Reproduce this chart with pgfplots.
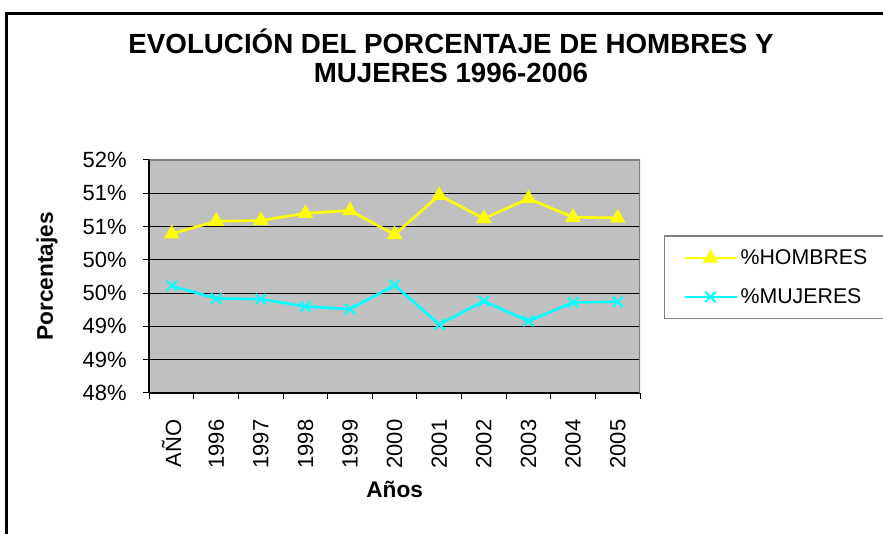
\documentclass[border=0pt]{standalone}
\usepackage{fontspec}
\setmainfont{Liberation Sans}
\usepackage{pgfplots}
\pgfplotsset{compat=1.18}
\definecolor{plotgray}{HTML}{C0C0C0}
\definecolor{hombres}{HTML}{FFFF00}
\definecolor{mujeres}{HTML}{00FFFF}
\definecolor{frame}{HTML}{808080}

\begin{document}
\begin{tikzpicture}
% chart frame and title, in pixel units (y down)
\begin{scope}[x=0.75pt,y=-0.75pt,shift={(0pt,400.5pt)}]
  \draw[black,line width=2.25pt] (6,560) -- (6,14) -- (900,14);
  \node[font=\bfseries\fontsize{20.8}{21.5}\selectfont,align=center] at (451,56)
    {EVOLUCIÓN DEL PORCENTAJE DE HOMBRES Y\\MUJERES 1996-2006};
  \draw[frame,line width=1pt] (900,236) -- (664.3,236) -- (664.3,318.3) -- (900,318.3);
\end{scope}

\begin{axis}[
  at={(112pt,105.75pt)}, anchor=south west,
  scale only axis, width=368pt, height=174.75pt,
  xmin=-0.5, xmax=10.5, ymin=48, ymax=51.5,
  axis x line*=bottom, axis y line*=left,
  axis line style={black,line width=1.4pt},
  axis background/.style={fill=plotgray},
  xtick={0,...,10},
  xticklabels={AÑO,1996,1997,1998,1999,2000,2001,2002,2003,2004,2005},
  minor xtick={-0.5,0.5,...,10.5},
  ytick={48,48.5,49,49.5,50,50.5,51,51.5},
  yticklabels={48\%,49\%,49\%,50\%,50\%,51\%,51\%,52\%},
  tick align=outside,
  major tick length=4.5pt, minor tick length=4.5pt,
  every major x tick/.style={draw=none},
  tick style={black,line width=0.75pt},
  ymajorgrids, grid style={black,line width=0.75pt},
  tick label style={font=\fontsize{16.5}{18}\selectfont},
  xticklabel style={rotate=90,anchor=east},
  xticklabel shift=12pt,
  yticklabel shift=9pt,
  xlabel={Años}, ylabel={Porcentajes},
  label style={font=\bfseries\fontsize{17}{19}\selectfont},
  xlabel style={at={(axis description cs:0.5,-0.416)},anchor=center},
  ylabel style={at={(axis description cs:-0.2085,0.5)},anchor=center},
  legend style={draw=none,fill=none,at={(axis description cs:1.0876,0.4957)},
    anchor=west,inner sep=0pt,row sep=12.5pt,
    nodes={inner xsep=2pt},font=\fontsize{16}{18}\selectfont},
  legend cell align=left,
  legend image code/.code={\draw[mark repeat=2,mark phase=2,#1]
    plot coordinates {(0pt,0pt) (19.5pt,0pt) (39pt,0pt)};},
]
\addplot[hombres,line width=2pt,mark=triangle*,mark size=4.8pt,
  mark options={solid,fill=hombres}]
  coordinates {(0,50.39) (1,50.58) (2,50.59) (3,50.70) (4,50.74) (5,50.38)
               (6,50.97) (7,50.62) (8,50.92) (9,50.64) (10,50.63)};
\addlegendentry{\%HOMBRES}
\addplot[mujeres,line width=2pt,mark=x,mark size=5.5pt,
  mark options={solid,line width=1.5pt}]
  coordinates {(0,49.61) (1,49.42) (2,49.41) (3,49.30) (4,49.26) (5,49.62)
               (6,49.03) (7,49.38) (8,49.08) (9,49.36) (10,49.37)};
\addlegendentry{\%MUJERES}
\draw[frame,line width=1.5pt] (rel axis cs:0,1) -- (rel axis cs:1,1) -- (rel axis cs:1,0);
\end{axis}
\pgfresetboundingbox
\path (0,0) rectangle (662.25pt,400.5pt);
\end{tikzpicture}
\end{document}
